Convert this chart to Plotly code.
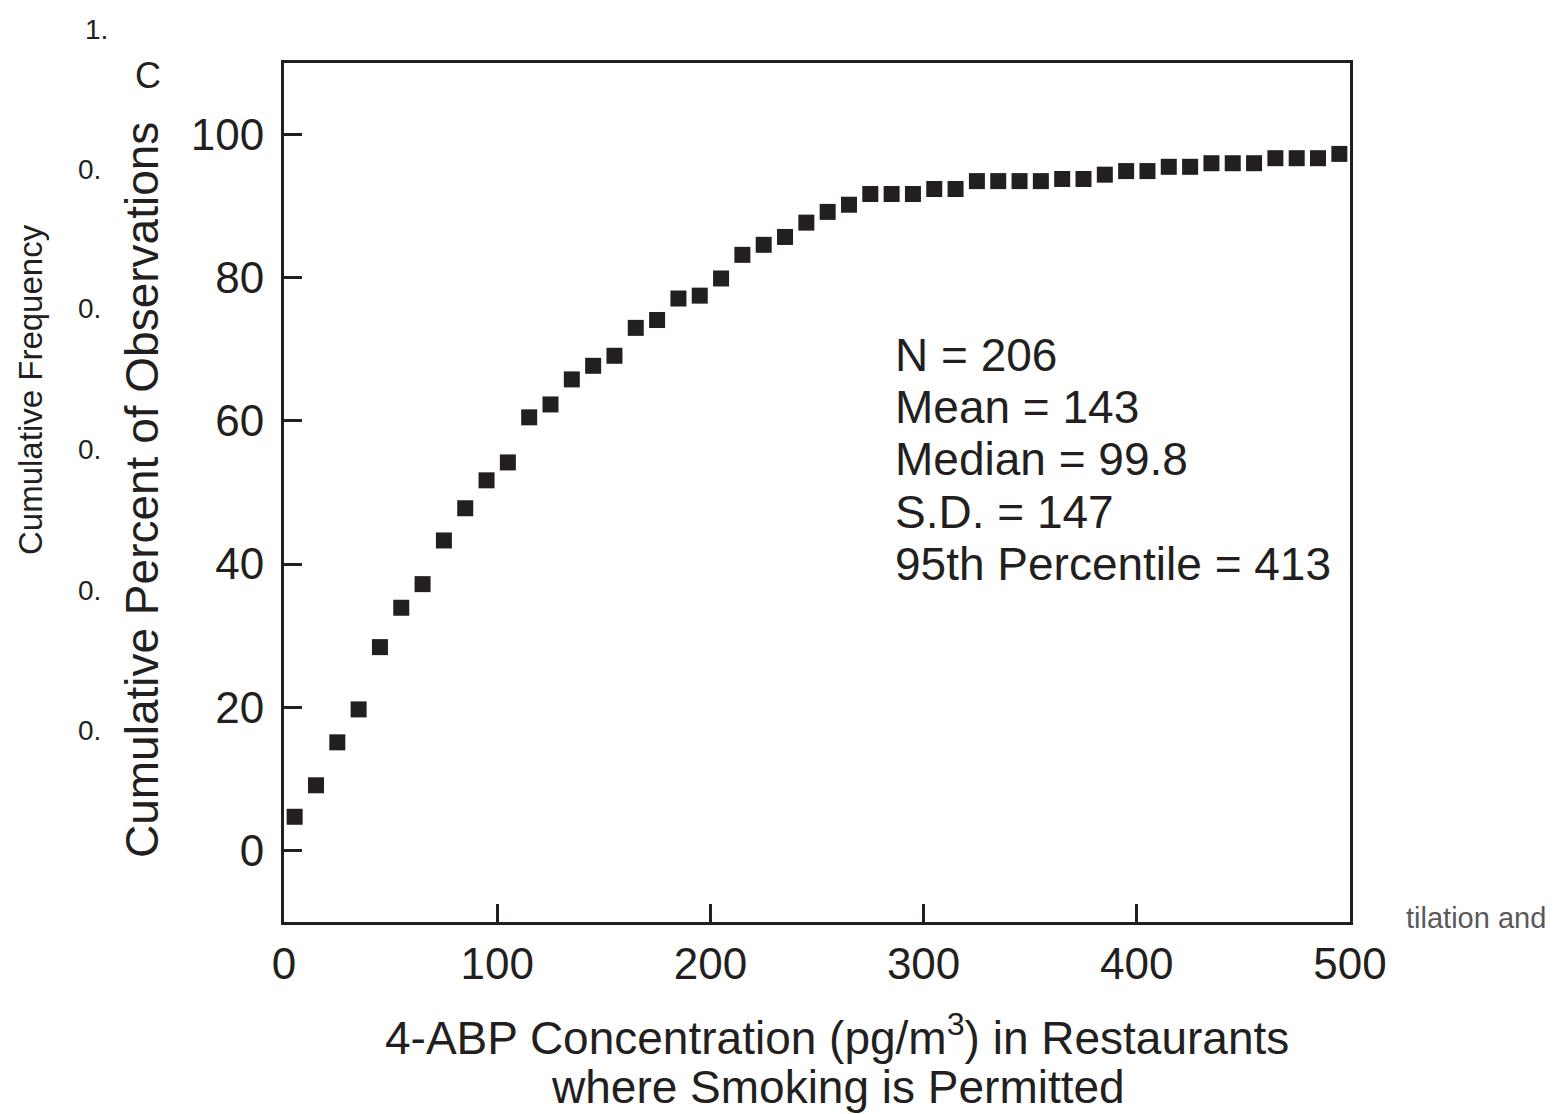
import plotly.graph_objects as go

# Concentration bin midpoints (pg/m^3)
conc = [5, 15, 25, 35, 45, 55, 65, 75, 85, 95,
        105, 115, 125, 135, 145, 155, 165, 175, 185, 195,
        205, 215, 225, 235, 245, 255, 265, 275, 285, 295,
        305, 315, 325, 335, 345, 355, 365, 375, 385, 395,
        405, 415, 425, 435, 445, 455, 465, 475, 485, 495]

# Cumulative percent of observations
cum_pct = [4.7, 9.1, 15.1, 19.7, 28.4, 33.9, 37.2, 43.3, 47.8, 51.7,
           54.2, 60.5, 62.3, 65.8, 67.7, 69.1, 73.0, 74.1, 77.1, 77.5,
           79.9, 83.2, 84.6, 85.7, 87.7, 89.2, 90.2, 91.7, 91.7, 91.7,
           92.4, 92.4, 93.5, 93.5, 93.5, 93.5, 93.8, 93.8, 94.4, 94.9,
           94.9, 95.5, 95.5, 96.0, 96.0, 96.0, 96.7, 96.7, 96.7, 97.3]

x_ticks = [0, 100, 200, 300, 400, 500]
y_ticks = [0, 20, 40, 60, 80, 100]

stats_lines = ["N = 206", "Mean = 143", "Median = 99.8", "S.D. = 147", "95th Percentile = 413"]

INK = "#231f20"
FONT = "Liberation Sans, Arial, sans-serif"

# page geometry (browser adds an 8px body margin)
OFF = 8
PAGE_W, PAGE_H = 1559, 1114
W, H = PAGE_W - OFF, PAGE_H - OFF
L, R, T, B = 284, 1350, 63, 922  # plot area in page pixels

fig = go.Figure()
fig.add_trace(go.Scatter(
    x=conc, y=cum_pct, mode="markers",
    marker=dict(symbol="square", size=16, color=INK, line=dict(width=0)),
    cliponaxis=False, showlegend=False,
))

axis_common = dict(
    showline=True, mirror=True, linewidth=3, linecolor=INK,
    ticks="inside", ticklen=18, tickwidth=3, tickcolor=INK,
    showgrid=False, zeroline=False,
    tickfont=dict(family=FONT, size=44, color=INK),
)

fig.update_xaxes(range=[0, 500], tickvals=x_ticks, ticktext=[str(v) for v in x_ticks],
                 ticklabelstandoff=1, **axis_common)
fig.update_yaxes(range=[-10, 110], tickvals=y_ticks, ticktext=[str(v) for v in y_ticks],
                 ticklabelstandoff=8, **axis_common)


def px_x(p):
    return (p - L) / (R - L)


def px_y(p):
    return (B - p) / (B - T)


def txt(text, x, y, size, color=INK, xanchor="center", yanchor="middle", angle=0):
    return dict(text=text, xref="paper", yref="paper", x=px_x(x), y=px_y(y),
                xanchor=xanchor, yanchor=yanchor, textangle=angle, showarrow=False,
                font=dict(family=FONT, size=size, color=color))


annotations = [
    txt("Cumulative Percent of Observations", 142, 490, 46, angle=-90),
    txt("4-ABP Concentration (pg/m<sup>3</sup>) in Restaurants", 837, 1035, 46),
    txt("where Smoking is Permitted", 838, 1087, 46),
    # fragments of the neighbouring figure visible in the scan
    txt("Cumulative Frequency", 30, 390, 33, angle=-90),
    txt("1.", 96, 29, 28),
    txt("C", 148, 75, 36),
    txt("tilation and", 1548, 918, 29, color="#58595b", xanchor="right"),
]
for yy in [170, 308, 450, 590, 730]:
    annotations.append(txt("0.", 89, yy, 28))

for i, line in enumerate(stats_lines):
    annotations.append(txt(line, 893, 355 + i * 52.2, 46, xanchor="left"))

fig.update_layout(
    width=W, height=H, autosize=False,
    margin=dict(l=L - OFF, r=W - (R - OFF), t=T - OFF, b=H - (B - OFF), pad=0),
    plot_bgcolor="white", paper_bgcolor="white",
    annotations=annotations,
    font=dict(family=FONT, color=INK),
)

fig.write_html("out.html")
